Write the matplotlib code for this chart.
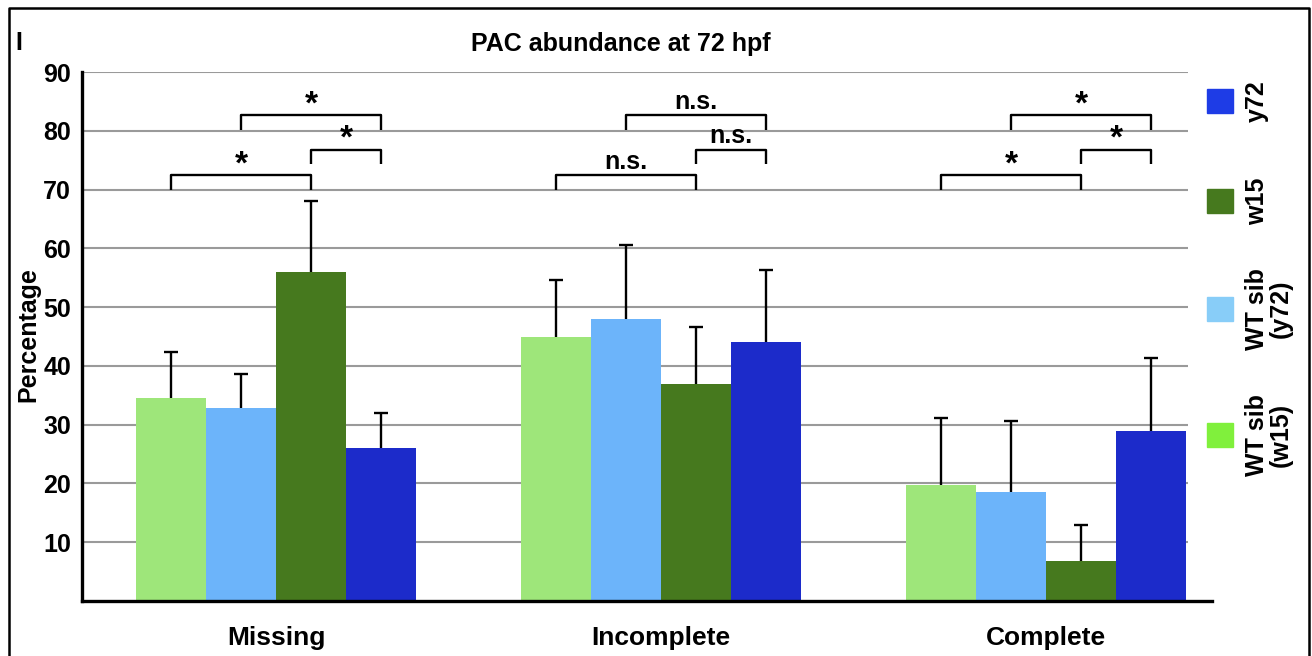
import numpy as np
import matplotlib as mpl
mpl.use("Agg")
import matplotlib.pyplot as plt
from matplotlib.patches import Rectangle

plt.rcParams['font.family'] = ['Liberation Sans', 'DejaVu Sans']
plt.rcParams['font.weight'] = 'bold'

# ===== data =====
categories = ["Missing", "Incomplete", "Complete"]
series = ["WT sib\n(w15)", "WT sib\n(y72)", "w15", "y72"]
means = {
    "WT sib\n(w15)": [34.5, 45.0, 19.8],
    "WT sib\n(y72)": [32.8, 47.9, 18.5],
    "w15":           [56.0, 37.0, 6.8],
    "y72":           [26.1, 44.0, 29.0],
}
err_top = {
    "WT sib\n(w15)": [42.3, 54.6, 31.1],
    "WT sib\n(y72)": [38.6, 60.5, 30.7],
    "w15":           [68.0, 46.6, 13.0],
    "y72":           [32.0, 56.3, 41.3],
}
# (bar i, bar j, height) for each bracket, same for every category
brackets = [
    (0, 2, 72.4), (2, 3, 76.8), (1, 3, 82.6),
]
bracket_labels = [
    ["*", "*", "*"],
    ["n.s.", "n.s.", "n.s."],
    ["*", "*", "*"],
]
yticks = [10, 20, 30, 40, 50, 60, 70, 80, 90]

# ===== style =====
bar_colors = ["#9ee67a", "#6cb4fa", "#46791e", "#1c2bca"]
leg_colors = ["#80f03c", "#88cdf8", "#46791e", "#1e3ce6"]
grid_c = "#9a9a9a"
w = 0.1818
fs = 18

fig = plt.figure(figsize=(13.12, 6.56), dpi=100)
ax = fig.add_axes([82/1312, 55/656, 1130/1312, 529/656])

x = np.arange(len(categories))
offsets = (np.arange(4) - 1.5) * w

ax.hlines(yticks, -0.504, 2.369, color=grid_c, lw=1.5, zorder=0)

for k, s in enumerate(series):
    vals = np.array(means[s])
    tops = np.array(err_top[s])
    ax.bar(x + offsets[k], vals, width=w, color=bar_colors[k], zorder=2)
    eb = ax.errorbar(x + offsets[k], vals, yerr=[np.zeros_like(vals), tops - vals],
                     fmt='none', ecolor='black', elinewidth=1.7, capsize=4.8,
                     capthick=1.7, zorder=3)
    eb[1][0].set_visible(False)  # no lower cap

# significance brackets
leg = 2.4
for g in range(len(categories)):
    for b, (i, j, h) in enumerate(brackets):
        x1, x2 = x[g] + offsets[i], x[g] + offsets[j]
        ax.plot([x1, x1, x2, x2], [h - leg, h, h, h - leg], color='black',
                lw=1.7, solid_capstyle='butt', zorder=3)
        lab = bracket_labels[g][b]
        if lab == "*":
            ax.text((x1 + x2) / 2, h - 0.8, lab, ha='center', va='bottom',
                    fontsize=24, fontweight='bold')
        else:
            ax.text((x1 + x2) / 2, h + 0.2, lab, ha='center', va='bottom',
                    fontsize=18, fontweight='bold')

ax.set_xlim(-0.504, 2.431)
ax.set_ylim(0, 90)
ax.set_yticks(yticks)
ax.set_yticklabels([str(t) for t in yticks], fontsize=fs, fontweight='bold')
ax.set_xticks(x)
ax.set_xticklabels(categories, fontsize=19, fontweight='bold')
ax.tick_params(axis='both', length=0, pad=8)
ax.tick_params(axis='x', pad=18)
for sp in ["top", "right"]:
    ax.spines[sp].set_visible(False)
for sp in ["left", "bottom"]:
    ax.spines[sp].set_linewidth(2.4)

fig.text(28/1312, 1 - 335/656, "Percentage", rotation=90, ha='center',
         va='center', fontsize=fs, fontweight='bold')
fig.text(621/1312, 1 - 44/656, "PAC abundance at 72 hpf", ha='center',
         va='center', fontsize=fs, fontweight='bold')
fig.text(19/1312, 1 - 43/656, "I", ha='center', va='center', fontsize=fs,
         fontweight='bold')

# legend (rotated labels, top to bottom: y72, w15, WT sib (y72), WT sib (w15))
leg_y = [435, 309, 201, 101]
for k, s in enumerate(series):
    cy = leg_y[k]
    fig.patches.append(Rectangle((1207/1312, 1 - (cy + 12)/656), 26/1312, 24/656,
                                 transform=fig.transFigure, color=leg_colors[k]))
    fig.text(1245/1312, 1 - cy/656, s, rotation=90, ha='left', va='center',
             multialignment='center', fontsize=fs, fontweight='bold',
             linespacing=1.0)

# outer frame
fig.add_artist(plt.Line2D([9/1312, 9/1312, 1309/1312, 1309/1312],
                          [-0.01, 1 - 8/656, 1 - 8/656, -0.01],
                          transform=fig.transFigure, color='black', lw=1.8))

fig.savefig("out.png", dpi=100)
